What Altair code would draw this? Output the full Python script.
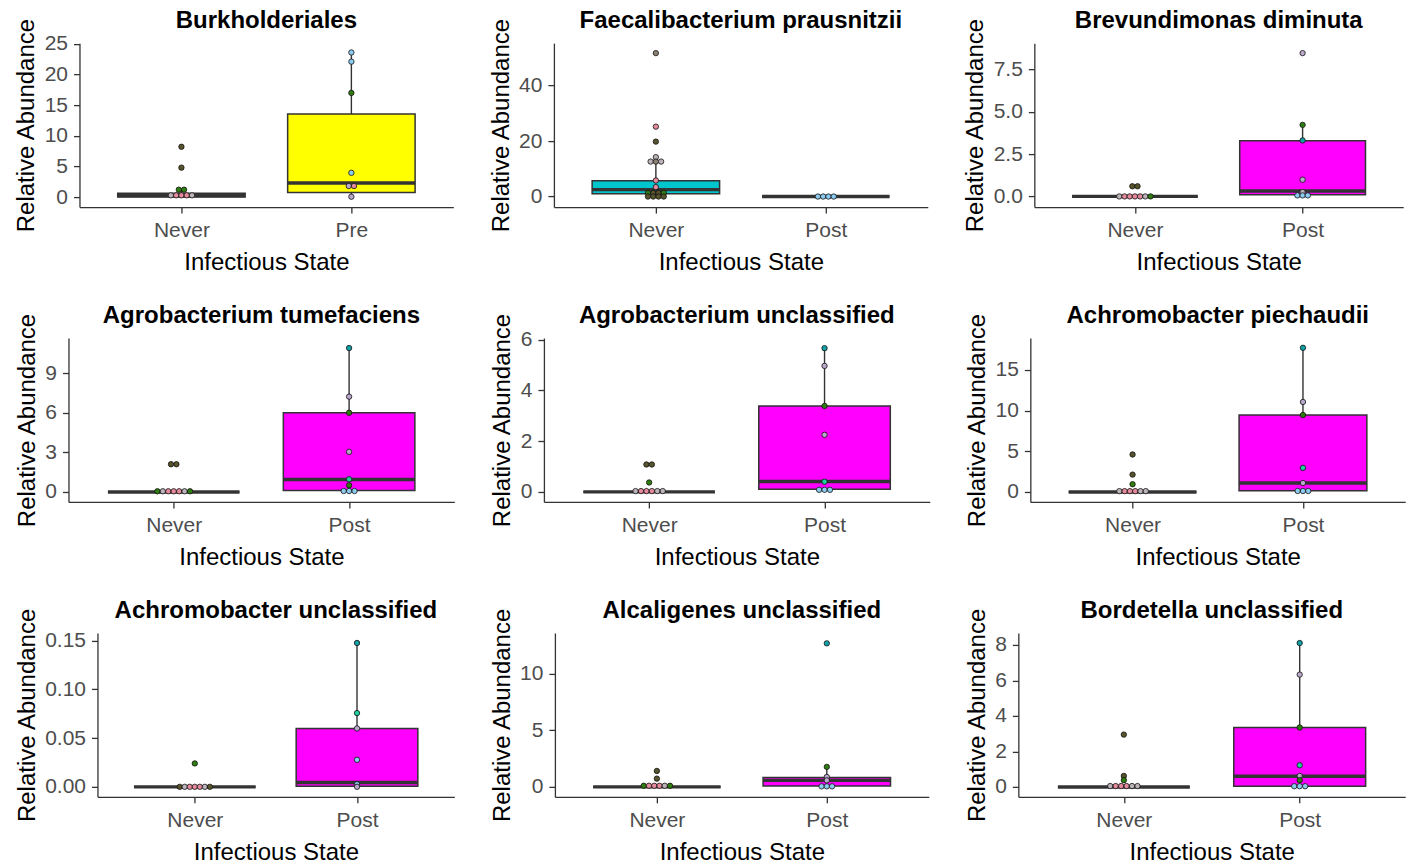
import altair as alt
import pandas as pd

# Panel titles, in reading order (3 x 3 grid)
titles = [
    "Burkholderiales", "Faecalibacterium prausnitzii", "Brevundimonas diminuta",
    "Agrobacterium tumefaciens", "Agrobacterium unclassified", "Achromobacter piechaudii",
    "Achromobacter unclassified", "Alcaligenes unclassified", "Bordetella unclassified",
]

# Category labels on the x axis of each panel
groups = [
    ["Never", "Pre"], ["Never", "Post"], ["Never", "Post"],
    ["Never", "Post"], ["Never", "Post"], ["Never", "Post"],
    ["Never", "Post"], ["Never", "Post"], ["Never", "Post"],
]

# Box statistics per panel and group: lower whisker, Q1, median, Q3, upper whisker
box_stats = [
    [[0.0, 0.02, 0.25, 0.6, 1.2], [0.05, 0.72, 2.3, 13.54, 23.6]],
    [[0.0, 1.0, 2.5, 5.7, 12.6], [0.0, 0.0, 0.0, 0.0, 0.0]],
    [[0.0, 0.0, 0.0, 0.0, 0.0], [0.05, 0.1, 0.32, 3.29, 4.23]],
    [[0.0, 0.0, 0.0, 0.0, 0.0], [0.05, 0.1, 0.94, 6.0, 10.9]],
    [[0.0, 0.0, 0.0, 0.0, 0.0], [0.05, 0.1, 0.41, 3.39, 5.67]],
    [[0.0, 0.0, 0.0, 0.0, 0.0], [0.1, 0.15, 1.1, 9.45, 17.7]],
    [[0.0, 0.0, 0.0, 0.0, 0.0], [0.0, 0.0005, 0.0044, 0.0597, 0.1475]],
    [[0.0, 0.0, 0.0, 0.0, 0.0], [0.03, 0.09, 0.58, 0.82, 1.77]],
    [[0.0, 0.0, 0.0, 0.0, 0.0], [0.02, 0.04, 0.6, 3.35, 8.11]],
]

# Individual samples per panel and group
dot_values = [
    [[8.2, 4.8, 1.2, 1.2, 0.28, 0.28, 0.28, 0.28, 0.28],
     [23.6, 22.1, 17.0, 3.95, 1.8, 1.8, 0.05]],
    [[51.7, 25.2, 19.8, 14.2, 12.6, 12.6, 12.6, 5.8, 3.4, 1.3, 1.3, 1.3, 1.3, 0.0, 0.0, 0.0, 0.0],
     [0.0, 0.0, 0.0, 0.0]],
    [[0.6, 0.6, 0.0, 0.0, 0.0, 0.0, 0.0, 0.0, 0.0],
     [8.47, 4.23, 3.31, 0.99, 0.26, 0.06, 0.06, 0.06]],
    [[2.1, 2.1, 0.05, 0.05, 0.05, 0.05, 0.05, 0.05, 0.05],
     [10.9, 7.22, 6.0, 3.04, 0.96, 0.5, 0.07, 0.07, 0.07]],
    [[1.08, 1.08, 0.37, 0.03, 0.03, 0.03, 0.03, 0.03, 0.03],
     [5.67, 4.97, 3.39, 2.25, 0.4, 0.08, 0.08, 0.08]],
    [[4.6, 2.13, 0.95, 0.1, 0.1, 0.1, 0.1, 0.1, 0.1],
     [17.7, 11.05, 9.45, 2.96, 1.1, 0.12, 0.12, 0.12]],
    [[0.024, 0.0, 0.0, 0.0, 0.0, 0.0, 0.0, 0.0],
     [0.1475, 0.0756, 0.0599, 0.0277, 0.0027, 0.0]],
    [[1.41, 0.73, 0.1, 0.1, 0.1, 0.1, 0.1, 0.1],
     [12.68, 1.77, 0.88, 0.58, 0.05, 0.05, 0.05]],
    [[2.95, 0.62, 0.38, 0.05, 0.05, 0.05, 0.05, 0.05, 0.05],
     [8.11, 6.33, 3.35, 1.22, 0.62, 0.38, 0.04, 0.04, 0.04]],
]
# Subject of each sample (sets the dot fill)
dot_subjects = [
    [["olive", "olive", "green", "green", "grey", "pink", "pink", "pink", "grey"],
     ["sky", "sky", "green", "sky", "lilac", "pink", "lilac"]],
    [["taupe", "pink", "olive", "grey", "grey", "taupe", "grey", "pink", "pink", "green", "olive", "olive", "green",
      "olive", "olive", "olive", "olive"],
     ["sky", "sky", "sky", "sky"]],
    [["olive", "olive", "grey", "pink", "pink", "pink", "pink", "grey", "green"],
     ["lilac", "green", "teal", "lilac", "grey", "sky", "sky", "sky"]],
    [["olive", "olive", "green", "grey", "pink", "pink", "pink", "grey", "green"],
     ["teal", "lilac", "green", "lilac", "mint", "green", "sky", "sky", "sky"]],
    [["olive", "olive", "green", "grey", "pink", "pink", "pink", "grey", "grey"],
     ["teal", "lilac", "green", "lilac", "mint", "sky", "sky", "sky"]],
    [["olive", "olive", "green", "grey", "pink", "pink", "pink", "grey", "grey"],
     ["teal", "lilac", "green", "mint", "lilac", "sky", "sky", "sky"]],
    [["green", "olive", "grey", "pink", "pink", "pink", "grey", "olive"],
     ["teal", "mint", "lilac", "sky", "sky", "lilac"]],
    [["olive", "olive", "green", "pink", "pink", "pink", "grey", "green"],
     ["teal", "green", "lilac", "lilac", "sky", "sky", "sky"]],
    [["olive", "olive", "green", "grey", "pink", "pink", "pink", "grey", "grey"],
     ["teal", "lilac", "green", "mint", "lilac", "green", "sky", "sky", "sky"]],
]

subject_names = ["olive", "green", "pink", "grey", "lilac", "sky", "teal", "mint", "taupe"]
subject_colors = ["#57532c", "#2f7d10", "#e38a9c", "#bdb3bb", "#b9a7cc", "#8ccbef", "#12a0a6", "#20cfa0", "#8c8072"]

box_fills = {"Never": "#00c5cd", "Pre": "#ffff00", "Post": "#ff00ff"}

# Axis settings per panel
y_domains = [
    [-1.64, 25.12], [-3.8, 55.3], [-0.63, 9.06],
    [-0.76, 11.66], [-0.40, 6.07], [-1.23, 18.9],
    [-0.0103, 0.1578], [-0.88, 13.6], [-0.56, 8.68],
]
y_ticks = [
    [0, 5, 10, 15, 20, 25], [0, 20, 40], [0, 2.5, 5, 7.5],
    [0, 3, 6, 9], [0, 2, 4, 6], [0, 5, 10, 15],
    [0, 0.05, 0.10, 0.15], [0, 5, 10], [0, 2, 4, 6, 8],
]
y_formats = ["d", "d", ".1f", "d", "d", "d", ".2f", "d", "d"]
panel_widths = [374, 374, 369, 386, 386, 375, 357, 374, 387]
PANEL_HEIGHT = 164

BOX_HALF = 0.375   # half box width in category units
DOT_STEP = 0.031   # spacing between side-by-side dots in category units


def build_panel(i):
    box_rows = []
    for g, name in enumerate(groups[i]):
        lo, q1, med, q3, hi = box_stats[i][g]
        box_rows.append(dict(pos=g + 1, xl=g + 1 - BOX_HALF, xr=g + 1 + BOX_HALF,
                             lo=lo, q1=q1, med=med, q3=q3, hi=hi, fill=box_fills[name]))
    box_df = pd.DataFrame(box_rows)

    dot_rows = []
    for g in range(2):
        vals = dot_values[i][g]
        subs = dot_subjects[i][g]
        # equal values sit side by side, centred on the category
        counts = {}
        for v in vals:
            counts[v] = counts.get(v, 0) + 1
        seen = {}
        for v, s in zip(vals, subs):
            k = seen.get(v, 0)
            seen[v] = k + 1
            off = (k - (counts[v] - 1) / 2) * DOT_STEP
            dot_rows.append(dict(dx=g + 1 + off, value=v, subject=s))
    dot_df = pd.DataFrame(dot_rows)

    g1, g2 = groups[i]
    x_axis = alt.Axis(values=[1, 2], labelExpr=f"datum.value == 1 ? '{g1}' : '{g2}'",
                      title="Infectious State", grid=False)
    x_scale = alt.Scale(domain=[0.4, 2.6], nice=False, zero=False)
    y_axis = alt.Axis(values=y_ticks[i], format=y_formats[i], title="Relative Abundance", grid=False)
    y_scale = alt.Scale(domain=y_domains[i], nice=False, zero=False)

    base = alt.Chart(box_df)
    whisk_lo = base.mark_rule(color="#333333", strokeWidth=1.4).encode(
        x=alt.X("pos:Q", scale=x_scale, axis=x_axis),
        y=alt.Y("lo:Q", scale=y_scale, axis=y_axis), y2="q1:Q")
    whisk_hi = base.mark_rule(color="#333333", strokeWidth=1.4).encode(
        x=alt.X("pos:Q", scale=x_scale, axis=x_axis),
        y=alt.Y("q3:Q", scale=y_scale, axis=y_axis), y2="hi:Q")
    box = base.mark_rect(stroke="#333333", strokeWidth=1.5).encode(
        x=alt.X("xl:Q", scale=x_scale, axis=x_axis), x2="xr:Q",
        y=alt.Y("q1:Q", scale=y_scale, axis=y_axis), y2="q3:Q",
        fill=alt.Fill("fill:N", scale=None))
    median = base.mark_rule(color="#333333", strokeWidth=3.4).encode(
        x=alt.X("xl:Q", scale=x_scale, axis=x_axis), x2="xr:Q",
        y=alt.Y("med:Q", scale=y_scale, axis=y_axis))
    dots = alt.Chart(dot_df).mark_point(filled=True, shape="circle", size=29,
                                        stroke="#111111", strokeWidth=0.8, opacity=1).encode(
        x=alt.X("dx:Q", scale=x_scale, axis=x_axis),
        y=alt.Y("value:Q", scale=y_scale, axis=y_axis),
        fill=alt.Fill("subject:N", scale=alt.Scale(domain=subject_names, range=subject_colors), legend=None))

    return alt.layer(whisk_lo, whisk_hi, box, median, dots).properties(
        width=panel_widths[i], height=PANEL_HEIGHT, title=titles[i])


def left_anchor():
    # tiny empty cell that pins every row to the same left edge
    return alt.Chart(pd.DataFrame({"v": [0]})).mark_point(opacity=0).encode(
        x=alt.value(0), y=alt.value(0)).properties(width=1, height=1)


rows = []
for r in range(3):
    panels = alt.hconcat(*[build_panel(r * 3 + c) for c in range(3)], spacing=35.6)
    rows.append(alt.hconcat(left_anchor(), panels, spacing=0))

chart = alt.vconcat(*rows, spacing=28).properties(
    padding={"left": 8.5, "top": 8, "right": 2, "bottom": 0},
    background="white",
).configure_view(stroke=None).configure_axis(
    domainColor="#333333", domainWidth=1.3, tickColor="#333333", tickWidth=1.3, tickSize=6,
    labelColor="#4d4d4d", labelFont="Liberation Sans", labelFontSize=21, labelPadding=6,
    titleColor="#000000", titleFont="Liberation Sans", titleFontSize=24, titleFontWeight="normal",
).configure_axisY(titlePadding=5.5).configure_axisX(titlePadding=10, labelPadding=6.5).configure_title(
    font="Liberation Sans", fontSize=24, fontWeight="bold", color="#000000", anchor="middle", offset=-15,
)

chart.save("out.html", embed_options={"renderer": "svg", "actions": False})
